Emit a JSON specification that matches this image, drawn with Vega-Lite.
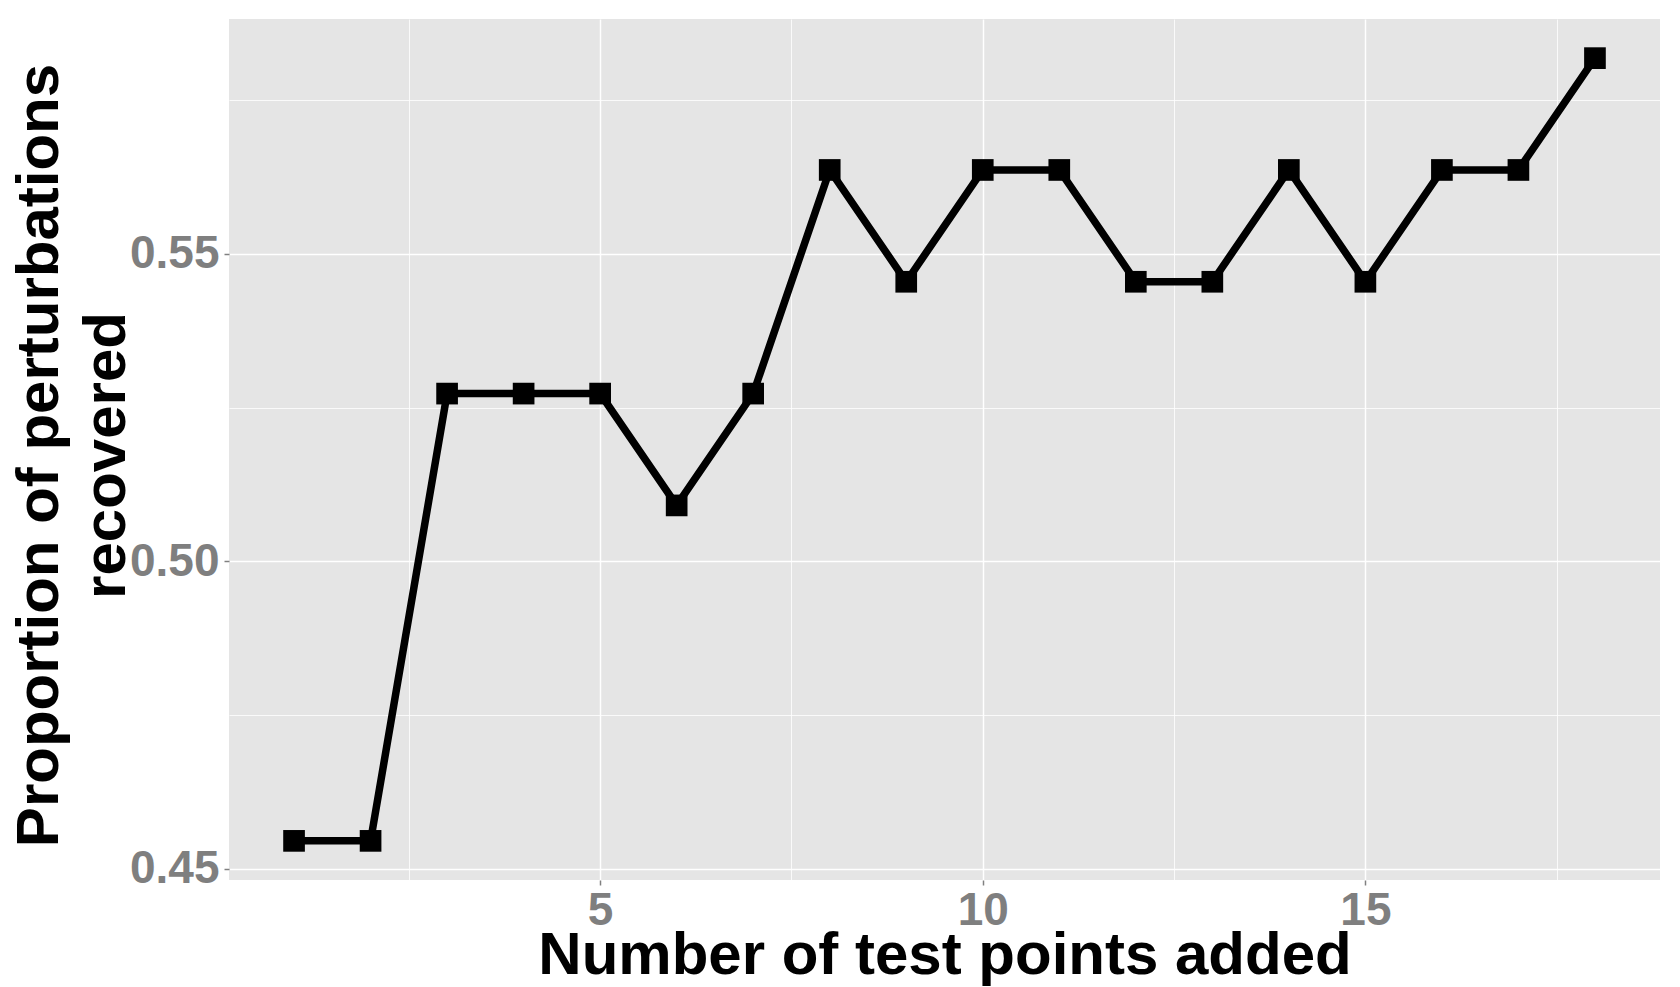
{
  "$schema": "https://vega.github.io/schema/vega-lite/v6.json",
  "width": 1431,
  "height": 861,
  "autosize": {"type": "none"},
  "padding": {"left": 229, "top": 19, "right": 20, "bottom": 107},
  "background": "white",
  "config": {
    "view": {"fill": "#E5E5E5", "stroke": null},
    "font": "Liberation Sans"
  },
  "data": {
    "values": [
      {"n": 1, "p": 0.454545},
      {"n": 2, "p": 0.454545},
      {"n": 3, "p": 0.527273},
      {"n": 4, "p": 0.527273},
      {"n": 5, "p": 0.527273},
      {"n": 6, "p": 0.509091},
      {"n": 7, "p": 0.527273},
      {"n": 8, "p": 0.563636},
      {"n": 9, "p": 0.545455},
      {"n": 10, "p": 0.563636},
      {"n": 11, "p": 0.563636},
      {"n": 12, "p": 0.545455},
      {"n": 13, "p": 0.545455},
      {"n": 14, "p": 0.563636},
      {"n": 15, "p": 0.545455},
      {"n": 16, "p": 0.563636},
      {"n": 17, "p": 0.563636},
      {"n": 18, "p": 0.581818}
    ]
  },
  "layer": [
    {
      "mark": {"type": "line", "opacity": 0},
      "encoding": {
        "x": {
          "field": "n", "type": "quantitative",
          "scale": {"domain": [0.15, 18.85], "nice": false, "zero": false},
          "axis": {"orient": "bottom", "values": [2.5, 7.5, 12.5, 17.5], "grid": true, "gridColor": "white", "gridWidth": 0.8, "labels": false, "ticks": false, "domain": false, "title": null}
        },
        "y": {
          "field": "p", "type": "quantitative",
          "scale": {"domain": [0.448182, 0.588182], "nice": false, "zero": false},
          "axis": {"orient": "left", "values": [0.475, 0.525, 0.575], "grid": true, "gridColor": "white", "gridWidth": 0.8, "labels": false, "ticks": false, "domain": false, "title": null}
        }
      }
    },
    {
      "mark": {"type": "line", "color": "black", "strokeWidth": 7.5},
      "encoding": {
        "x": {
          "field": "n", "type": "quantitative",
          "axis": {
            "orient": "bottom", "values": [5, 10, 15], "grid": true, "gridColor": "white", "gridWidth": 1.5,
            "domain": false, "ticks": true, "tickColor": "#808080", "tickSize": 5, "tickWidth": 1.5,
            "labelFontSize": 46, "labelFontWeight": "bold", "labelColor": "#7F7F7F", "labelPadding": 3,
            "title": "Number of test points added", "titleFontSize": 60, "titleFontWeight": "bold", "titleColor": "black",
            "titleBaseline": "alphabetic", "titleAlign": "center", "titleX": 715.5, "titleY": 93
          }
        },
        "y": {
          "field": "p", "type": "quantitative",
          "axis": {
            "orient": "left", "values": [0.45, 0.5, 0.55], "format": ".2f", "grid": true, "gridColor": "white", "gridWidth": 1.5,
            "domain": false, "ticks": true, "tickColor": "#808080", "tickSize": 5, "tickWidth": 1.5,
            "labelFontSize": 46, "labelFontWeight": "bold", "labelColor": "#7F7F7F", "labelPadding": 5,
            "title": ["Proportion of perturbations", "recovered"], "titleFontSize": 60, "titleFontWeight": "bold", "titleColor": "black",
            "titleAngle": -90, "titleBaseline": "alphabetic", "titleAlign": "center", "titleX": -172, "titleY": 436, "titleLineHeight": 67
          }
        }
      }
    },
    {
      "mark": {"type": "point", "shape": "square", "filled": true, "size": 470, "color": "black", "opacity": 1},
      "encoding": {
        "x": {"field": "n", "type": "quantitative", "axis": null},
        "y": {"field": "p", "type": "quantitative", "axis": null}
      }
    }
  ],
  "resolve": {"axis": {"x": "independent", "y": "independent"}}
}
